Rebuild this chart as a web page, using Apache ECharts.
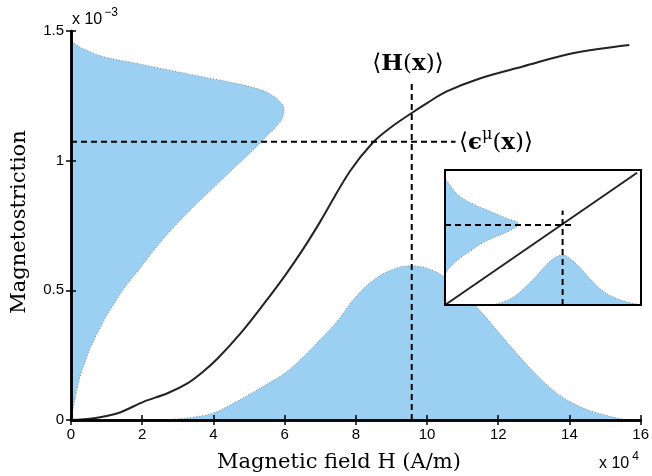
<!DOCTYPE html>
<html><head><meta charset="utf-8">
<script src="https://cdn.jsdelivr.net/npm/echarts@6/dist/echarts.min.js"></script>
<style>html,body{margin:0;padding:0;background:#fff}#c{width:652px;height:476px}</style>
</head><body><div id="c"></div>
<script>
// Main magnetostriction curve (x in 1e4 A/m, y in 1e-3)
const curveX = [0, 0.65, 1.31, 2.05, 2.71, 3.27, 3.7, 4.11, 4.76, 5.4, 6.0, 6.5, 7.0, 7.83, 8.48, 9.0, 9.56, 10.0, 10.54, 11.5, 12.69, 14.09, 15.68];
const curveY = [0, 0.007, 0.026, 0.071, 0.103, 0.141, 0.185, 0.236, 0.334, 0.445, 0.555, 0.655, 0.765, 0.958, 1.07, 1.13, 1.183, 1.222, 1.266, 1.318, 1.363, 1.414, 1.446];
// Input field distribution (bottom)
const fieldX = [2.0, 2.5, 3.0, 3.5, 4.0, 4.5, 5.0, 5.5, 6.0, 6.5, 7.0, 7.5, 8.0, 8.5, 9.0, 9.5, 10.0, 10.5, 11.0, 11.5, 12.0, 12.5, 13.0, 13.5, 14.0, 14.5, 15.0, 15.5, 15.7];
const fieldY = [0, 0.001, 0.004, 0.012, 0.027, 0.06, 0.098, 0.138, 0.18, 0.24, 0.31, 0.385, 0.475, 0.54, 0.578, 0.594, 0.585, 0.55, 0.49, 0.42, 0.34, 0.26, 0.185, 0.12, 0.072, 0.04, 0.019, 0.003, 0];
// Output strain distribution (left), sampled on strain levels
const strainLevels = ['0','0.025','0.05','0.075','0.1','0.125','0.15','0.175','0.2','0.225','0.25','0.275','0.3','0.325','0.35','0.375','0.4','0.425','0.45','0.475','0.5','0.525','0.55','0.575','0.6','0.625','0.65','0.675','0.7','0.725','0.75','0.775','0.8','0.825','0.85','0.875','0.9','0.925','0.95','0.975','1','1.025','1.05','1.075','1.1','1.125','1.15','1.175','1.2','1.225','1.25','1.275','1.3','1.325','1.35','1.375','1.4','1.425','1.45','1.475','1.5'];
const strainDensity = [0,0.035,0.07,0.105,0.14,0.18,0.22,0.27,0.33,0.40,0.46,0.53,0.62,0.70,0.80,0.89,0.99,1.10,1.22,1.33,1.45,1.59,1.73,1.88,2.02,2.16,2.30,2.45,2.60,2.76,2.93,3.10,3.28,3.46,3.65,3.84,4.03,4.22,4.41,4.60,4.80,4.99,5.18,5.36,5.53,5.72,5.87,5.96,5.98,5.88,5.67,5.28,4.55,3.63,2.73,1.85,0.94,0.45,0.12,0,0];
// Mean markers
const meanH = 9.57, meanEps = 1.073;
const meanHTop = 1.31, meanEpsEnd = 10.8;
// Inset (normalised)
const insetLineX = [0, 0.98], insetLineY = [0, 0.98];
const insetFieldX = [0.2,0.25,0.3,0.35,0.4,0.45,0.5,0.55,0.6,0.65,0.7,0.75,0.8,0.85,0.9,0.95,1.0];
const insetFieldY = [0,0.005,0.025,0.06,0.12,0.19,0.27,0.34,0.37,0.33,0.26,0.18,0.11,0.065,0.035,0.015,0.003];
const insetLevels = ['0','0.05','0.1','0.15','0.2','0.25','0.3','0.35','0.4','0.45','0.5','0.55','0.6','0.65','0.7','0.75','0.8','0.85','0.9','0.95','1'];
const insetDensity = [0,0,0,0,0,0.01,0.04,0.08,0.13,0.18,0.25,0.33,0.375,0.30,0.22,0.14,0.08,0.045,0.02,0,0];
const insetMeanX = 0.6, insetMeanY = 0.593, insetVTop = 0.70, insetHEnd = 0.65;

const xTicks = [0,2,4,6,8,10,12,14,16];
const yTicks = [0,0.5,1,1.5];

const FILL = '#9bd0f2';
const EDGE = '#6f8496';
const zip = (a,b)=>a.map((v,i)=>[v,b[i]]);

const chart = echarts.init(document.getElementById('c'), null, {renderer:'canvas'});
const mainRect = {left:71, top:31, width:570, height:389};
const insetRect = {left:445, top:170, width:196, height:135};
const sans = 'Liberation Sans';
const serif = 'DejaVu Serif';

const axisCommon = {
  axisLine:{show:true, lineStyle:{color:'#000', width:2.5}},
  axisTick:{show:true, inside:true, length:5, lineStyle:{color:'#000', width:1.5}},
  splitLine:{show:false}
};

chart.setOption({
  animation:false,
  backgroundColor:'#fff',
  grid:[
    Object.assign({}, mainRect),
    Object.assign({}, mainRect),
    Object.assign({show:true, backgroundColor:'#fff', borderWidth:0, z:5}, insetRect),
    Object.assign({}, insetRect),
    Object.assign({show:true, backgroundColor:'transparent', borderColor:'#000', borderWidth:2, z:20}, insetRect)
  ],
  xAxis:[
    Object.assign({type:'value', gridIndex:0, min:0, max:16, interval:2, position:'bottom', z:4,
      axisLabel:{color:'#000', fontFamily:sans, fontSize:15, margin:7}}, axisCommon),
    Object.assign({type:'value', gridIndex:0, min:0, max:16, interval:2, position:'top', z:4,
      axisLabel:{show:false}}, axisCommon),
    {type:'value', gridIndex:1, min:0, max:16, show:false},
    {type:'value', gridIndex:2, min:0, max:1, show:false},
    {type:'value', gridIndex:3, min:0, max:1, show:false},
    {type:'value', gridIndex:4, min:0, max:1, show:false}
  ],
  yAxis:[
    Object.assign({type:'value', gridIndex:0, min:0, max:1.5, interval:0.5, position:'left', z:4,
      axisLabel:{color:'#000', fontFamily:sans, fontSize:15, margin:7}}, axisCommon),
    Object.assign({type:'value', gridIndex:0, min:0, max:1.5, interval:0.5, position:'right', z:4,
      axisLabel:{show:false}}, axisCommon),
    {type:'category', gridIndex:1, data:strainLevels, boundaryGap:false, show:false},
    {type:'value', gridIndex:2, min:0, max:1, show:false},
    {type:'category', gridIndex:3, data:insetLevels, boundaryGap:false, show:false},
    {type:'value', gridIndex:4, min:0, max:1, show:false}
  ],
  series:[
    {type:'line', xAxisIndex:0, yAxisIndex:0, data:zip(fieldX, fieldY), smooth:0.4, symbol:'none', z:2,
      lineStyle:{color:EDGE, width:1, type:[1,2]}, areaStyle:{color:FILL, opacity:1}},
    {type:'line', xAxisIndex:2, yAxisIndex:2, data:strainDensity, smooth:0.4, symbol:'none', z:2,
      lineStyle:{color:EDGE, width:1, type:[1,2]}, areaStyle:{color:FILL, opacity:1}},
    {type:'line', xAxisIndex:0, yAxisIndex:0, data:zip(curveX, curveY), smooth:0.35, symbol:'none', z:3,
      lineStyle:{color:'#222', width:2}},
    {type:'line', xAxisIndex:0, yAxisIndex:0, data:[[meanH,0],[meanH,meanHTop]], symbol:'none', z:3,
      lineStyle:{color:'#000', width:2, type:[6,4]}},
    {type:'line', xAxisIndex:0, yAxisIndex:0, data:[[0,meanEps],[meanEpsEnd,meanEps]], symbol:'none', z:3,
      lineStyle:{color:'#000', width:2, type:[6,4]}},
    {type:'line', xAxisIndex:3, yAxisIndex:3, data:zip(insetFieldX, insetFieldY), smooth:0.4, symbol:'none', z:10,
      lineStyle:{color:EDGE, width:1, type:[1,2]}, areaStyle:{color:FILL, opacity:1}},
    {type:'line', xAxisIndex:4, yAxisIndex:4, data:insetDensity, smooth:0.4, symbol:'none', z:10,
      lineStyle:{color:EDGE, width:1, type:[1,2]}, areaStyle:{color:FILL, opacity:1}},
    {type:'line', xAxisIndex:3, yAxisIndex:3, data:zip(insetLineX, insetLineY), symbol:'none', z:11,
      lineStyle:{color:'#222', width:2}},
    {type:'line', xAxisIndex:3, yAxisIndex:3, data:[[insetMeanX,0],[insetMeanX,insetVTop]], symbol:'none', z:11,
      lineStyle:{color:'#000', width:2, type:[6,4]}},
    {type:'line', xAxisIndex:3, yAxisIndex:3, data:[[0,insetMeanY],[insetHEnd,insetMeanY]], symbol:'none', z:11,
      lineStyle:{color:'#000', width:2, type:[6,4]}}
  ],
  graphic:[
    {type:'text', left:72, top:7, z:30, style:{
      text:'{a|x 10}{s|−3}', rich:{a:{fontFamily:sans, fontSize:16, fill:'#000'}, s:{fontFamily:sans, fontSize:12, fill:'#000', padding:[0,0,13,2]}}}},
    {type:'text', left:599, top:451, z:30, style:{
      text:'{a|x 10}{s|4}', rich:{a:{fontFamily:sans, fontSize:16, fill:'#000'}, s:{fontFamily:sans, fontSize:12, fill:'#000', padding:[0,0,13,3]}}}},
    {type:'text', x:339, y:463, z:30, style:{text:'Magnetic field H (A/m)', fontFamily:serif, fontSize:21, fill:'#000', align:'center', verticalAlign:'middle'}},
    {type:'text', x:20, y:222, rotation:Math.PI/2, z:30, style:{text:'Magnetostriction', fontFamily:serif, fontSize:21, fill:'#000', align:'center', verticalAlign:'middle'}},
    {type:'text', x:408, y:64, z:30, style:{
      text:'{n|⟨}{b|H}{n|(}{b|x}{n|)⟩}', align:'center', verticalAlign:'middle',
      rich:{n:{fontFamily:serif, fontSize:23, fill:'#000'}, b:{fontFamily:serif, fontSize:23, fontWeight:'bold', fill:'#000'}}}},
    {type:'text', x:459, y:143, z:30, style:{
      text:'{n|⟨}{b|ϵ}{s|μ}{n|(}{b|x}{n|)⟩}', align:'left', verticalAlign:'middle',
      rich:{n:{fontFamily:serif, fontSize:23, fill:'#000'}, b:{fontFamily:serif, fontSize:23, fontWeight:'bold', fill:'#000'}, s:{fontFamily:serif, fontSize:16, fill:'#000', padding:[0,0,16,0]}}}}
  ]
});
</script></body></html>
